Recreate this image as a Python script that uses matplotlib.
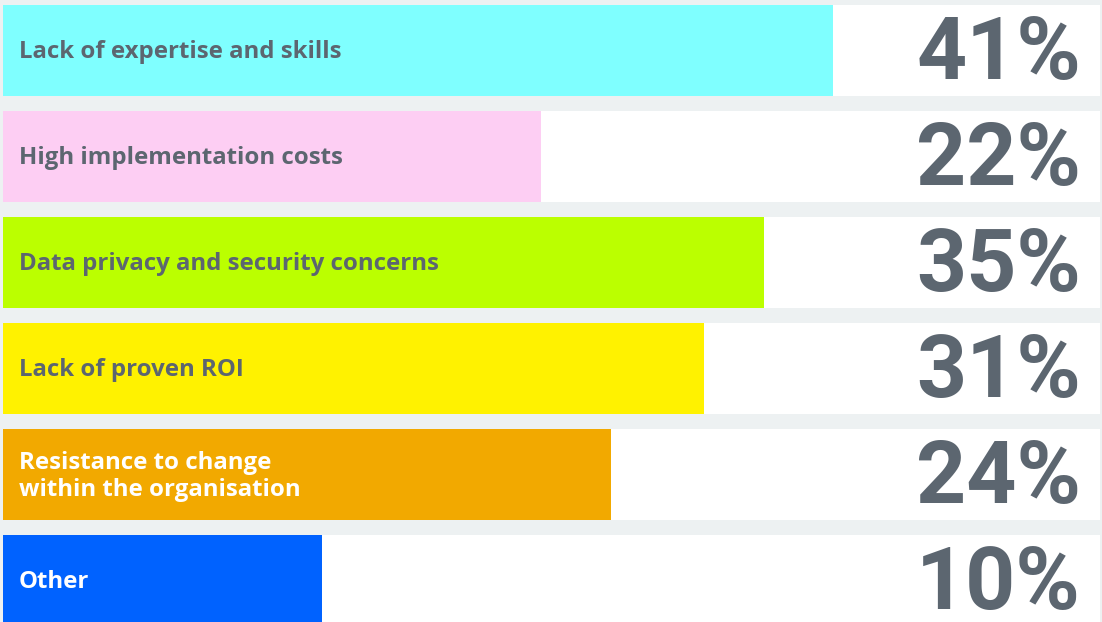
import matplotlib
matplotlib.use("Agg")
import matplotlib.pyplot as plt

# data
labels = ["Lack of expertise and skills", "High implementation costs",
          "Data privacy and security concerns", "Lack of proven ROI",
          "Resistance to change\nwithin the organisation", "Other"]
values = [41, 22, 35, 31, 24, 10]
# drawn bar lengths (the bars are not proportional to the percentages)
bar_len = [830, 538, 761, 701, 608, 319]

colors = ["#7FFFFF", "#FDCEF3", "#BBFF00", "#FFF200", "#F2A900", "#0062FF"]
text_colors = ["#5C6670", "#5C6670", "#5C6670", "#5C6670", "white", "white"]
grey = "#5C6670"

fig = plt.figure(figsize=(11.02, 6.22), dpi=100, facecolor="#EDF1F2")
ax = fig.add_axes([0, 0, 1, 1])
ax.set_facecolor("#EDF1F2")
ax.set_xlim(0, 1102)
ax.set_ylim(622, 0)
ax.axis("off")

pitch = 106
row_h = 91
y = [5 + row_h / 2 + pitch * i for i in range(len(values))]

# white row backgrounds, then the coloured bars
ax.barh(y, 1097, left=3, height=row_h, color="white")
ax.barh(y, bar_len, left=3, height=row_h, color=colors)

for yi, lab, tc, v in zip(y, labels, text_colors, values):
    ax.text(19, yi + 2, lab, color=tc, fontsize=17.3, fontweight="bold",
            family="Open Sans", va="center", ha="left", linespacing=1.15)
    ax.text(1081, yi + 4, f"{v}%", color=grey, fontsize=63, fontweight="bold",
            family="Roboto", va="center", ha="right")

fig.savefig("out.png", dpi=100, facecolor=fig.get_facecolor())
